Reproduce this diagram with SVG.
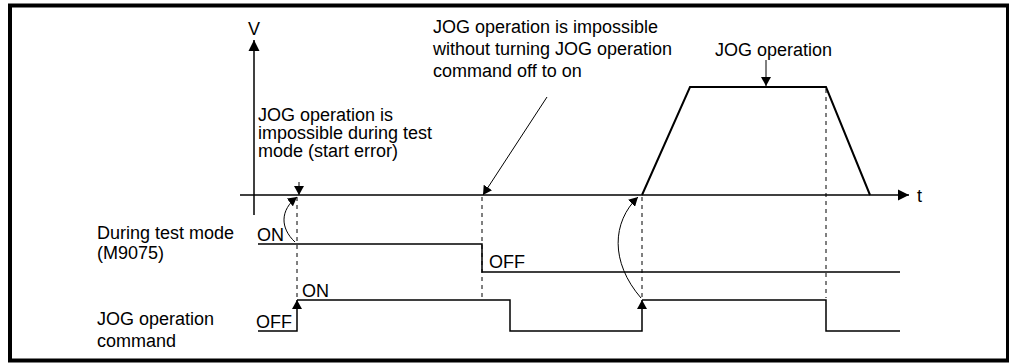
<svg xmlns="http://www.w3.org/2000/svg" width="1009" height="363" viewBox="0 0 1009 363">
<style>
text{font-family:"Liberation Sans",Arial,sans-serif;font-size:18px;fill:#000}
.ln{fill:none;stroke:#000;stroke-width:1.5}
.tr{fill:none;stroke:#000;stroke-width:2}
.th{fill:none;stroke:#000;stroke-width:1}
.ds{fill:none;stroke:#000;stroke-width:1;stroke-dasharray:4,4}
</style>
<defs>
<marker id="big" markerUnits="userSpaceOnUse" markerWidth="12" markerHeight="12" viewBox="0 0 12 12" refX="11" refY="6" orient="auto"><path d="M0,0.5 L11,6 L0,11.5 Z" fill="#000"/></marker>
<marker id="sm" markerUnits="userSpaceOnUse" markerWidth="10" markerHeight="10" viewBox="0 0 10 10" refX="9" refY="5" orient="auto"><path d="M0,0 L9,5 L0,10 Z" fill="#000"/></marker>
</defs>
<rect x="10" y="5.5" width="998" height="355" fill="#fff" stroke="#000" stroke-width="4"/>
<g id="axes">
<line class="ln" x1="254" y1="215" x2="254" y2="40" marker-end="url(#big)"/>
<text x="254" y="35" text-anchor="middle">V</text>
<line class="ln" x1="240" y1="195" x2="909" y2="195" marker-end="url(#big)"/>
<text x="917" y="202">t</text>
</g>
<g id="speed">
<polyline class="tr" points="642,195 690,87 826,87 870,195"/>
</g>
<g id="label-test-error">
<text x="258" y="121">JOG operation is</text>
<text x="258" y="139">impossible during test</text>
<text x="258" y="157">mode (start error)</text>
</g>
<g id="label-off-to-on">
<text x="433" y="33">JOG operation is impossible</text>
<text x="433" y="55">without turning JOG operation</text>
<text x="433" y="77">command off to on</text>
</g>
<g id="label-jog">
<text x="715" y="56">JOG operation</text>
</g>
<g id="sig-test-mode">
<text x="97" y="239">During test mode</text>
<text x="97" y="259">(M9075)</text>
<text x="257" y="241">ON</text>
<polyline class="ln" points="258,244 482,244 482,272 900,272"/>
<text x="489" y="268">OFF</text>
</g>
<g id="sig-jog-cmd">
<text x="97" y="325">JOG operation</text>
<text x="97" y="347">command</text>
<text x="256" y="328">OFF</text>
<text x="302" y="297">ON</text>
<polyline class="ln" points="258,331 297,331 297,300" marker-end="url(#sm)"/>
<polyline class="ln" points="297,300 510,300 510,331 642,331 642,300" marker-end="url(#sm)"/>
<polyline class="ln" points="642,300 826,300 826,331 900,331"/>
</g>
<g id="connectors">
<line class="ds" x1="297" y1="197" x2="297" y2="298"/>
<line class="ds" x1="482" y1="197" x2="482" y2="297"/>
<line class="ds" x1="642" y1="197" x2="642" y2="297"/>
<line class="ds" x1="826" y1="89" x2="826" y2="298"/>
<line class="th" x1="299" y1="182" x2="299" y2="195" marker-end="url(#sm)"/>
<line class="th" x1="547" y1="97" x2="483" y2="195" marker-end="url(#sm)"/>
<line class="th" x1="766" y1="60" x2="766" y2="86" marker-end="url(#sm)"/>
<path class="th" d="M295,242 C280,228 280,210 297,197" marker-end="url(#sm)"/>
<path class="th" d="M641,298 C610,262 612,222 638,197" marker-end="url(#sm)"/>
</g>
</svg>
